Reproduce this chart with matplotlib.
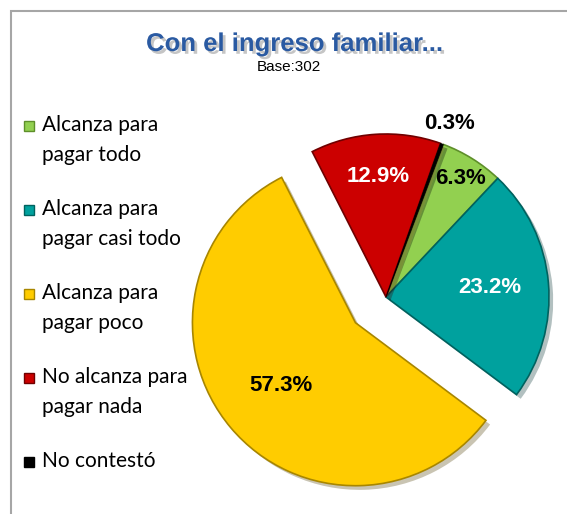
import matplotlib.pyplot as plt
import matplotlib.patches as patches
import matplotlib.patheffects as pe
import numpy as np

labels = ["Alcanza para\npagar todo", "Alcanza para\npagar casi todo",
          "Alcanza para\npagar poco", "No alcanza para\npagar nada", "No contestó"]
values = [6.3, 23.2, 57.3, 12.9, 0.3]
colors = ["#92D050", "#00A19E", "#FFCC00", "#CC0000", "#000000"]
edge_colors = ["#5E8F2A", "#00625F", "#A88600", "#700000", "#000000"]
explode_frac = [0, 0, 0.245, 0, 0]
pct_colors = ["black", "white", "black", "white", "black"]
pct_dist = [0.86, 0.64, 0.6, 0.74, 1.13]

W, H = 567, 514
fig = plt.figure(figsize=(W / 100, H / 100), dpi=100)
ax = fig.add_axes([0, 0, 1, 1])

radius = 163
center = (386, H - 297)
wedges, _ = ax.pie(values, colors=colors, startangle=69.4, counterclock=False,
                   explode=[f * radius for f in explode_frac],
                   center=center, radius=radius)
ax.set_xlim(0, W)
ax.set_ylim(0, H)
ax.axis("off")

shadow = [pe.SimplePatchShadow(offset=(3, -3), alpha=0.3), pe.Normal()]
for w, ec in zip(wedges, edge_colors):
    w.set_edgecolor(ec)
    w.set_linewidth(1.2 if ec != "#000000" else 0.5)
    w.set_path_effects(shadow)

# percentage labels
for w, v, d, c in zip(wedges, values, pct_dist, pct_colors):
    ang = np.deg2rad((w.theta1 + w.theta2) / 2)
    x = w.center[0] + d * w.r * np.cos(ang)
    y = w.center[1] + d * w.r * np.sin(ang)
    ax.text(x, y, f"{v}%", ha="center", va="center", color=c,
            fontsize=16, fontweight="bold", family="Liberation Sans")

# frame
ax.add_patch(patches.Rectangle((11, -20), W, H - 11 + 20, fill=False,
                               edgecolor="#A6A6A6", lw=1.5))

# title
ax.text(295, H - 44, "Con el ingreso familiar...", ha="center", va="center",
        fontsize=18.5, fontweight="bold", color="#2A5AA2", family="Liberation Sans",
        path_effects=[pe.withSimplePatchShadow(offset=(2, -2), shadow_rgbFace="gray",
                                               alpha=0.45)])
ax.text(289, H - 67, "Base:302", ha="center", va="center", fontsize=11,
        family="Liberation Sans")

# legend
row_y = 126
for lab, col, ec in zip(labels, colors, edge_colors):
    ax.add_patch(patches.Rectangle((24, H - row_y - 5), 10, 10, facecolor=col,
                                   edgecolor=ec, lw=1))
    ax.text(42, H - row_y + 11, lab, ha="left", va="top", fontsize=15,
            family="Lato", linespacing=1.6)
    row_y += 84

fig.savefig("out.png", dpi=100)
